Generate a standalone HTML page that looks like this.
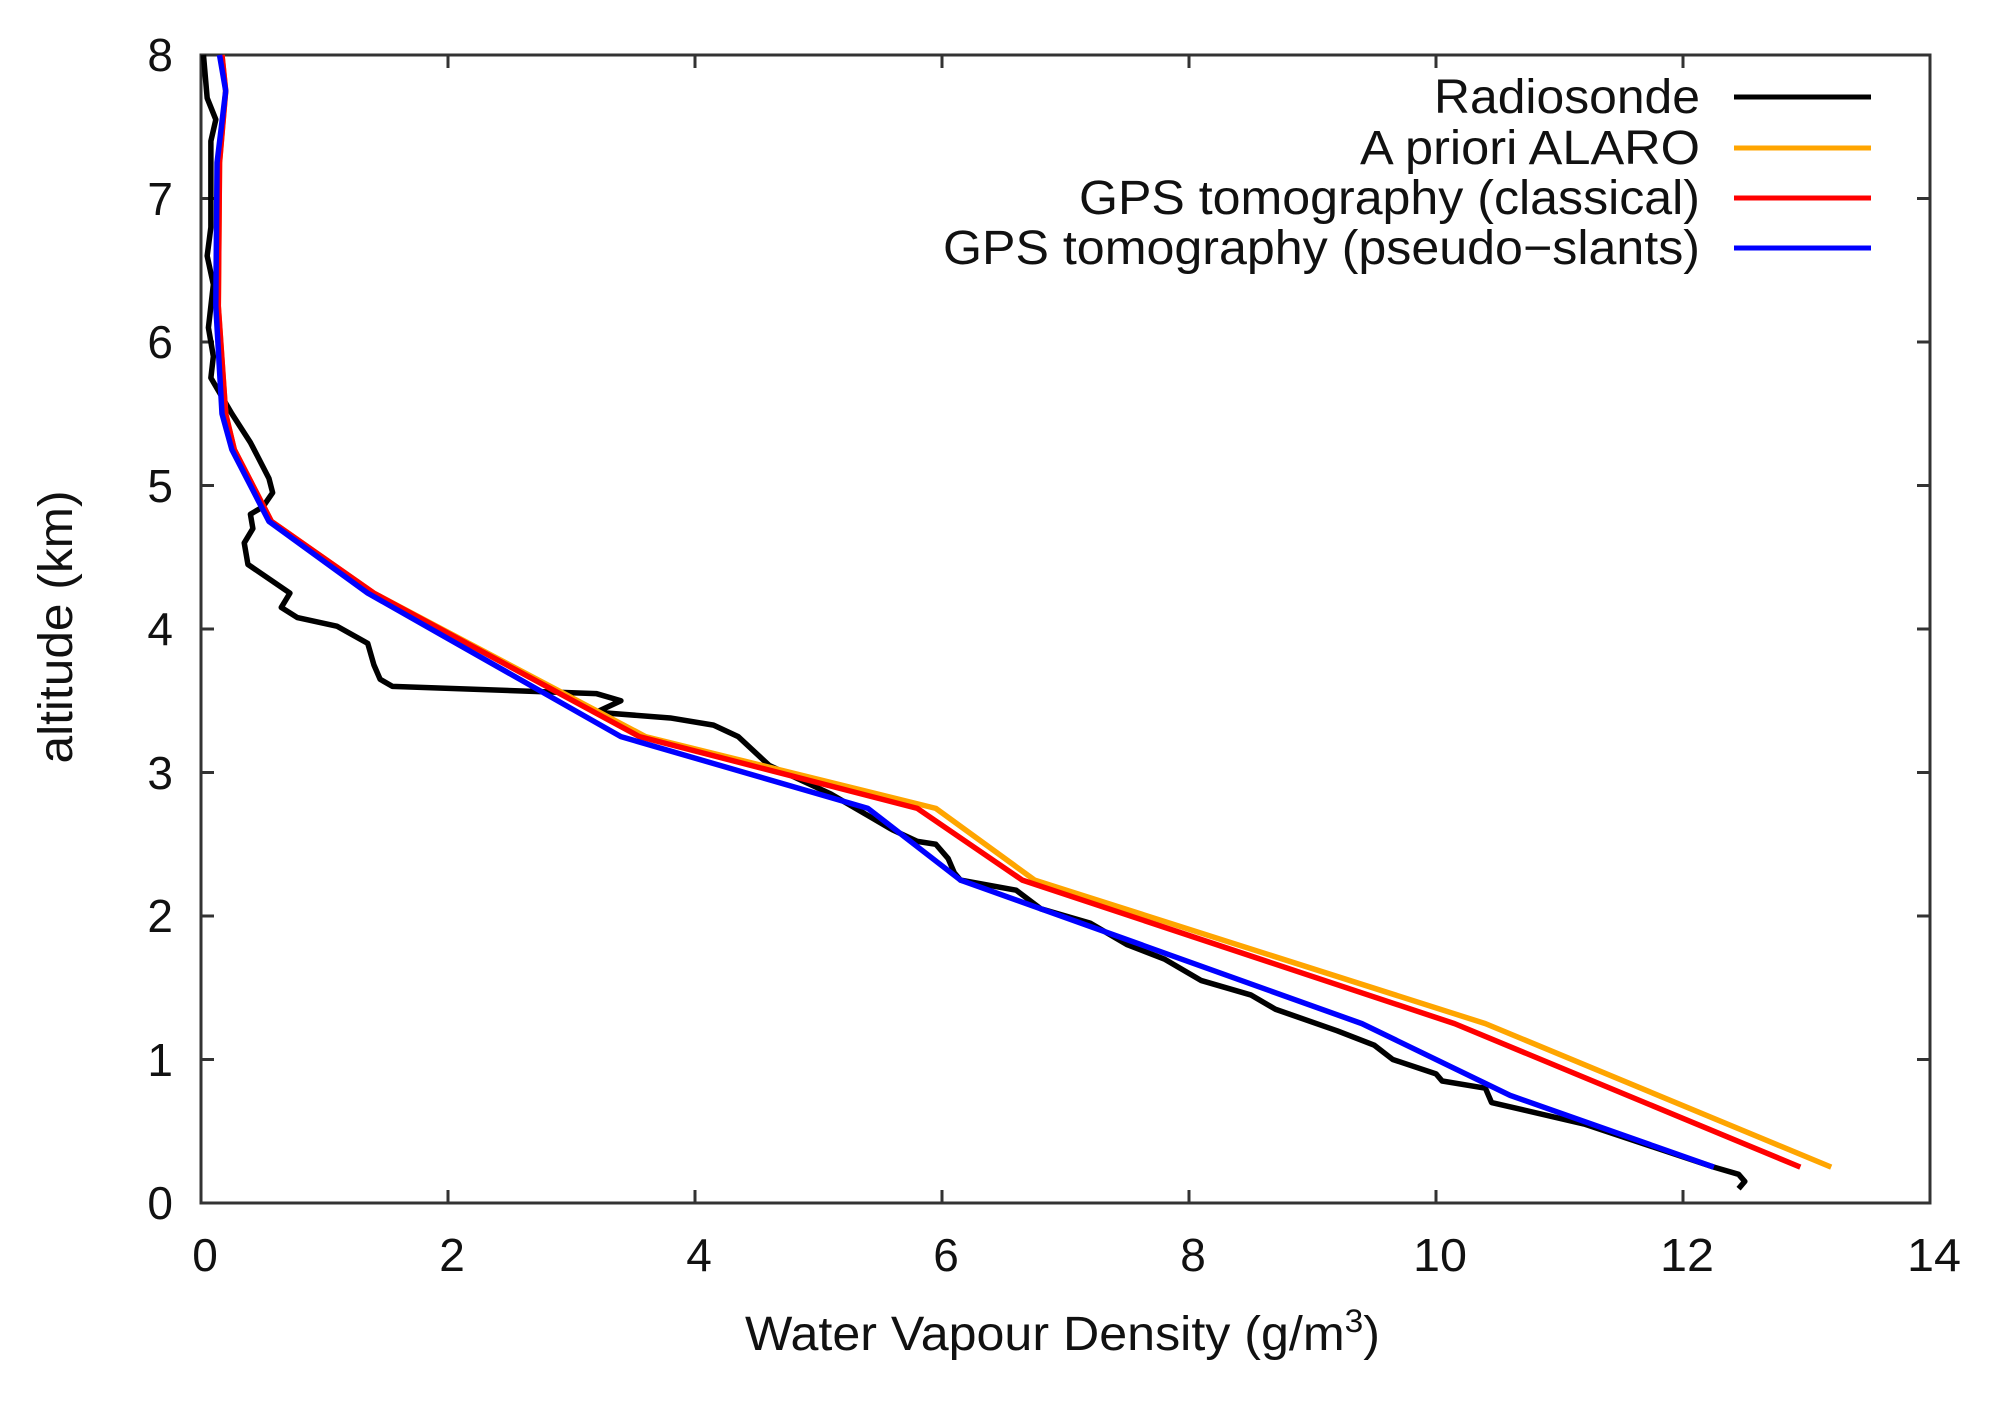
<!DOCTYPE html>
<html><head><meta charset="utf-8"><style>html,body{margin:0;padding:0;background:#fff}svg{display:block}</style></head>
<body>
<svg width="2007" height="1408" xmlns="http://www.w3.org/2000/svg" font-family="Liberation Sans, sans-serif">
<rect width="2007" height="1408" fill="#fff"/>
<g stroke="#333" stroke-width="3" fill="none">
<rect x="201" y="55" width="1729" height="1148"/>
<path d="M201,1203v-13M448,1203v-13M695,1203v-13M942,1203v-13M1189,1203v-13M1436,1203v-13M1683,1203v-13M1930,1203v-13
M201,55v13M448,55v13M695,55v13M942,55v13M1189,55v13M1436,55v13M1683,55v13M1930,55v13
M201,1203h13M201,1059.5h13M201,916h13M201,772.5h13M201,629h13M201,485.5h13M201,342h13M201,198.5h13M201,55h13
M1930,1203h-13M1930,1059.5h-13M1930,916h-13M1930,772.5h-13M1930,629h-13M1930,485.5h-13M1930,342h-13M1930,198.5h-13M1930,55h-13"/>
</g>
<g font-size="46" fill="#111" text-anchor="middle">
<text x="205" y="1271">0</text><text x="452" y="1271">2</text><text x="699" y="1271">4</text><text x="946" y="1271">6</text><text x="1193" y="1271">8</text>
<text x="1440" y="1271" textLength="54" lengthAdjust="spacingAndGlyphs">10</text><text x="1687" y="1271" textLength="54" lengthAdjust="spacingAndGlyphs">12</text><text x="1934" y="1271" textLength="54" lengthAdjust="spacingAndGlyphs">14</text>
</g>
<g font-size="46" fill="#111" text-anchor="end">
<text x="173" y="1219">0</text><text x="173" y="1076">1</text><text x="173" y="932">2</text><text x="173" y="789">3</text><text x="173" y="645">4</text><text x="173" y="502">5</text><text x="173" y="358">6</text><text x="173" y="215">7</text><text x="173" y="71">8</text>
</g>
<text x="745" y="1350" font-size="48" fill="#111" textLength="635" lengthAdjust="spacingAndGlyphs">Water Vapour Density (g/m<tspan dy="-18" font-size="32">3</tspan><tspan dy="18">)</tspan></text>
<text transform="translate(72,627) rotate(-90)" text-anchor="middle" font-size="48" fill="#111" textLength="273" lengthAdjust="spacingAndGlyphs">altitude (km)</text>
<g font-size="48" fill="#111" text-anchor="end">
<text x="1700" y="113" textLength="266" lengthAdjust="spacingAndGlyphs">Radiosonde</text>
<text x="1700" y="164" textLength="340" lengthAdjust="spacingAndGlyphs">A priori ALARO</text>
<text x="1700" y="214" textLength="621" lengthAdjust="spacingAndGlyphs">GPS tomography (classical)</text>
<text x="1700" y="264" textLength="757" lengthAdjust="spacingAndGlyphs">GPS tomography (pseudo−slants)</text>
</g>
<g stroke-width="5">
<path d="M1734,97H1871" stroke="#000"/>
<path d="M1734,148H1871" stroke="#ffa500"/>
<path d="M1734,198H1871" stroke="#ff0000"/>
<path d="M1734,248H1871" stroke="#0000ff"/>
</g>
<g transform="translate(201,1203) scale(123.5,-143.5)" fill="none" stroke-linejoin="round">
<polyline vector-effect="non-scaling-stroke" stroke-width="5.5" stroke="#000" points="0.02,8 0.05,7.7 0.12,7.55 0.08,7.4 0.08,6.8 0.05,6.6 0.1,6.4 0.06,6.1 0.1,5.9 0.08,5.75 0.25,5.5 0.4,5.3 0.55,5.05 0.58,4.95 0.5,4.85 0.4,4.8 0.42,4.7 0.35,4.6 0.38,4.45 0.55,4.35 0.72,4.25 0.65,4.15 0.78,4.08 1.1,4.02 1.35,3.9 1.4,3.75 1.45,3.65 1.55,3.6 3.2,3.55 3.4,3.5 3.2,3.42 3.8,3.38 4.15,3.33 4.35,3.25 4.6,3.05 5.1,2.85 5.4,2.7 5.6,2.6 5.8,2.52 5.95,2.5 6.05,2.4 6.1,2.3 6.15,2.25 6.6,2.18 6.8,2.05 7.2,1.95 7.5,1.8 7.8,1.7 8.1,1.55 8.5,1.45 8.7,1.35 9.2,1.2 9.5,1.1 9.65,1.0 10.0,0.9 10.05,0.85 10.4,0.8 10.45,0.7 10.7,0.65 11.2,0.55 12.25,0.25 12.45,0.2 12.5,0.15 12.45,0.1"/>
<polyline vector-effect="non-scaling-stroke" stroke-width="5.5" stroke="#ffa500" points="0.17,8 0.2,7.75 0.15,7.25 0.14,6.25 0.2,5.5 0.27,5.25 0.57,4.75 1.4,4.25 3.6,3.25 5.95,2.75 6.75,2.25 10.4,1.25 13.2,0.25"/>
<polyline vector-effect="non-scaling-stroke" stroke-width="5.5" stroke="#ff0000" points="0.17,8 0.2,7.75 0.15,7.25 0.14,6.25 0.2,5.5 0.27,5.25 0.57,4.75 1.4,4.25 3.55,3.25 5.8,2.75 6.65,2.25 10.15,1.25 12.95,0.25"/>
<polyline vector-effect="non-scaling-stroke" stroke-width="5.5" stroke="#0000ff" points="0.15,8 0.2,7.75 0.13,7.25 0.12,6.25 0.17,5.5 0.25,5.25 0.55,4.75 1.35,4.25 3.4,3.25 5.4,2.75 6.15,2.25 9.4,1.25 10.6,0.75 12.25,0.25"/>
</g>
</svg>
</body></html>
